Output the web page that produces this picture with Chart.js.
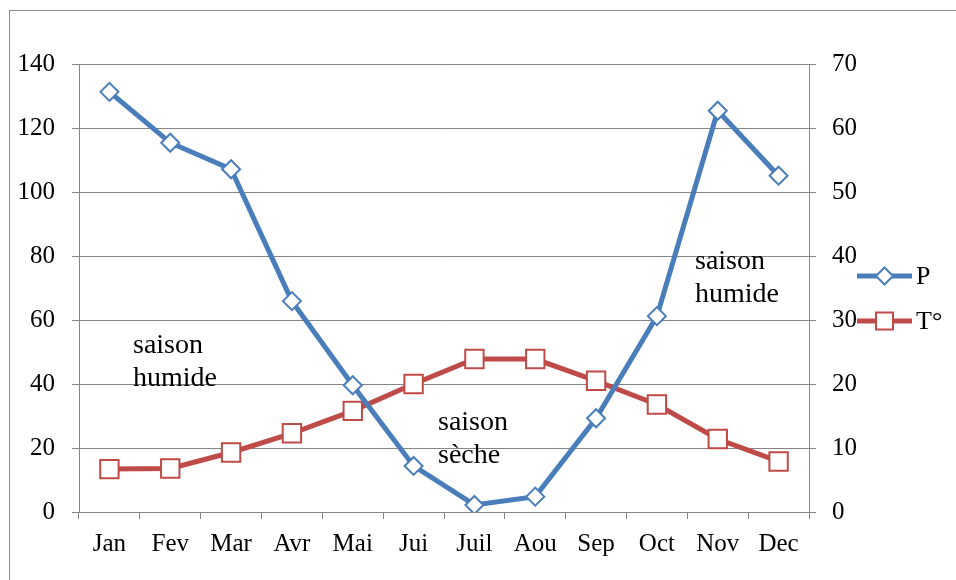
<!DOCTYPE html>
<html>
<head>
<meta charset="utf-8">
<script src="https://cdn.jsdelivr.net/npm/chart.js@4"></script>
<style>
  body { margin: 0; background: #fff; }
  #frame { position: absolute; left: 9px; top: 10px; width: 1000px; height: 640px; border-left: 1px solid #8c8c8c; border-top: 1px solid #8c8c8c; }
  #chart { position: absolute; left: 0; top: 0; }
</style>
</head>
<body>
<div id="frame"></div>
<canvas id="chart" width="956" height="580"></canvas>
<script>
const months = ['Jan', 'Fev', 'Mar', 'Avr', 'Mai', 'Jui', 'Juil', 'Aou', 'Sep', 'Oct', 'Nov', 'Dec'];
const precip = [131.3, 115.4, 107.1, 65.9, 39.6, 14.4, 2.2, 4.8, 29.3, 61.2, 125.4, 105.1];
const temp = [6.7, 6.8, 9.3, 12.3, 15.8, 20.0, 23.9, 23.9, 20.5, 16.8, 11.4, 7.9];
const seriesNames = ['P', 'T°'];
const notes = [
  ['saison', 'humide'],
  ['saison', 'sèche'],
  ['saison', 'humide'],
];

const BLUE = '#4A7EBB';
const RED = '#BE4B48';
const GRID = '#868686';
const FONT = '"Liberation Serif", "Times New Roman", serif';

// where the text notes sit (pixels)
const notePos = [
  { x: 133, y: 353 },
  { x: 438, y: 430 },
  { x: 695, y: 269 },
];

const notesPlugin = {
  id: 'notes',
  afterDatasetsDraw(chart) {
    const ctx = chart.ctx;
    ctx.save();
    ctx.fillStyle = '#000';
    ctx.font = '28px ' + FONT;
    ctx.textAlign = 'left';
    ctx.textBaseline = 'alphabetic';
    notes.forEach((lines, i) => {
      lines.forEach((t, j) => ctx.fillText(t, notePos[i].x, notePos[i].y + j * 33));
    });
    ctx.restore();
  }
};

// excel-like legend: line segment with the marker in the middle
const legendPlugin = {
  id: 'sideLegend',
  afterDraw(chart) {
    const ctx = chart.ctx;
    const x0 = 857, x1 = 912, rows = [276, 321];
    ctx.save();
    chart.data.datasets.forEach((ds, i) => {
      const y = rows[i];
      ctx.strokeStyle = ds.borderColor;
      ctx.lineWidth = 5;
      ctx.beginPath();
      ctx.moveTo(x0, y);
      ctx.lineTo(x1, y);
      ctx.stroke();

      ctx.fillStyle = '#fff';
      ctx.strokeStyle = ds.pointBorderColor;
      ctx.lineWidth = ds.pointBorderWidth;
      Chart.helpers.drawPoint(ctx, {
        pointStyle: ds.pointStyle,
        rotation: 0,
        radius: ds.pointStyle === 'rect' ? 12 : 8.5,
        borderWidth: ds.pointBorderWidth
      }, (x0 + x1) / 2, y);

      ctx.fillStyle = '#000';
      ctx.font = '26px ' + FONT;
      ctx.textAlign = 'left';
      ctx.textBaseline = 'middle';
      ctx.fillText(ds.label, 916, y + 1);
    });
    ctx.restore();
  }
};

const data = {
  labels: months,
  datasets: [
    {
      label: seriesNames[0],
      data: precip,
      yAxisID: 'y',
      borderColor: BLUE,
      borderWidth: 5,
      pointStyle: 'rectRot',
      pointRadius: 9,
      pointHoverRadius: 9,
      pointBackgroundColor: '#fff',
      pointBorderColor: BLUE,
      pointBorderWidth: 2,
      tension: 0,
      order: 0,
    },
    {
      label: seriesNames[1],
      data: temp,
      yAxisID: 'y1',
      borderColor: RED,
      borderWidth: 5,
      pointStyle: 'rect',
      pointRadius: 13,
      pointHoverRadius: 13,
      pointBackgroundColor: '#fff',
      pointBorderColor: RED,
      pointBorderWidth: 2,
      tension: 0,
      order: 1,
    },
  ],
};

const options = {
  responsive: false,
  animation: false,
  layout: { padding: { top: 64, left: 0, right: 87, bottom: 0 } },
  scales: {
    x: {
      offset: true,
      grid: { offset: true, drawOnChartArea: false, color: GRID, tickLength: 7 },
      border: { color: GRID },
      ticks: { color: '#000', font: { family: FONT, size: 25 }, padding: 10, maxRotation: 0 },
      afterFit: s => { s.height = 68; },
    },
    y: {
      position: 'left',
      min: 0,
      max: 140,
      grid: { color: GRID, tickLength: 7 },
      border: { color: GRID },
      ticks: { stepSize: 20, color: '#000', font: { family: FONT, size: 25 }, padding: 17 },
      afterFit: s => { s.width = 79; },
    },
    y1: {
      position: 'right',
      min: 0,
      max: 70,
      grid: { drawOnChartArea: false, color: GRID, tickLength: 7 },
      border: { color: GRID },
      ticks: { stepSize: 10, color: '#000', font: { family: FONT, size: 25 }, padding: 16 },
      afterFit: s => { s.width = 60; },
    },
  },
  plugins: {
    legend: { display: false },
    tooltip: { enabled: false },
  },
};

new Chart(document.getElementById('chart').getContext('2d'), {
  type: 'line',
  data: data,
  options: options,
  plugins: [notesPlugin, legendPlugin],
});
</script>
</body>
</html>
